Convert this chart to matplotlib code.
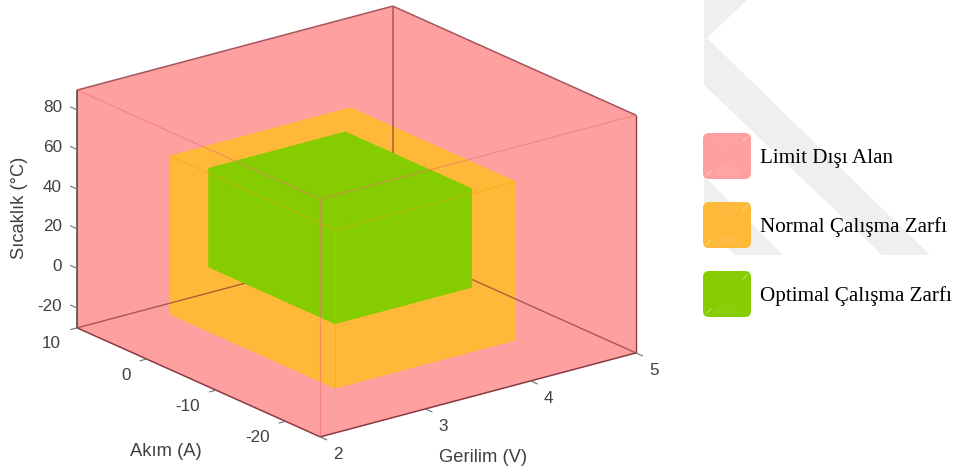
import matplotlib
matplotlib.use('Agg')
import matplotlib.pyplot as plt
from matplotlib.patches import FancyBboxPatch, Polygon
from mpl_toolkits.mplot3d import proj3d
from mpl_toolkits.mplot3d.art3d import Poly3DCollection

# axis ranges and ticks
volt_lim = [2, 5]
curr_lim = [-25, 10]
temp_lim = [-30, 90]
volt_ticks = [2, 3, 4, 5]
curr_ticks = [10, 0, -10, -20]
temp_ticks = [-20, 0, 20, 40, 60, 80]

# operating envelopes
normal_volt = [2.47, 4.19]
normal_curr = [-20, 3.8]
normal_temp = [-20, 60]
optimal_volt = [2.8, 4.1]
optimal_curr = [-15, 3.2]
optimal_temp = [0, 50]

legend_labels = ['Limit Dışı Alan', 'Normal Çalışma Zarfı', 'Optimal Çalışma Zarfı']

PINK = '#ffa0a0'
ORANGE = '#ffb938'
GREEN = '#85cc00'
TEXT = '#404040'
W, H = 955, 471


def box_faces(xr, yr, zr):
    x0, x1 = xr
    y0, y1 = yr
    z0, z1 = zr
    return [
        [(x0, y0, z0), (x1, y0, z0), (x1, y1, z0), (x0, y1, z0)],
        [(x0, y0, z1), (x1, y0, z1), (x1, y1, z1), (x0, y1, z1)],
        [(x0, y0, z0), (x1, y0, z0), (x1, y0, z1), (x0, y0, z1)],
        [(x0, y1, z0), (x1, y1, z0), (x1, y1, z1), (x0, y1, z1)],
        [(x0, y0, z0), (x0, y1, z0), (x0, y1, z1), (x0, y0, z1)],
        [(x1, y0, z0), (x1, y1, z0), (x1, y1, z1), (x1, y0, z1)],
    ]


def add_box(ax, xr, yr, zr, color, z):
    p = Poly3DCollection(box_faces(xr, yr, zr), facecolor=color, edgecolor='none', linewidth=0)
    p.set_zorder(z)
    ax.add_collection3d(p)
    p.set_clip_on(False)


def edge(ax, a, b, color, lw, z, alpha=1.0):
    ax.plot([a[0], b[0]], [a[1], b[1]], [a[2], b[2]], color=color, lw=lw, alpha=alpha,
            zorder=z, clip_on=False, solid_capstyle='butt')


def front_edges(ax, xr, yr, zr, color, lw, z, alpha):
    corner = (xr[0], yr[0], zr[1])
    edge(ax, corner, (xr[1], yr[0], zr[1]), color, lw, z, alpha)
    edge(ax, corner, (xr[0], yr[1], zr[1]), color, lw, z, alpha)
    edge(ax, corner, (xr[0], yr[0], zr[0]), color, lw, z, alpha)


def label_at(ax, x, y, z, s, dx, dy, ha, size=12.3):
    px, py, _ = proj3d.proj_transform(x, y, z, ax.get_proj())
    ax.annotate(s, xy=(px, py), xytext=(dx, dy), textcoords='offset pixels', ha=ha, va='center',
                fontsize=size, color=TEXT, annotation_clip=False)


fig = plt.figure(figsize=(W / 100, H / 100), dpi=100)
plt.rcParams['font.family'] = ['Liberation Sans', 'DejaVu Sans']

# flat layer in pixel coordinates: watermark and legend
bg = fig.add_axes([0, 0, 1, 1], zorder=0)
bg.set_xlim(0, W)
bg.set_ylim(H, 0)
bg.axis('off')
wm = '#efefef'
bg.add_patch(Polygon([(704, 0), (747, 0), (707, 38), (930, 255), (882, 255), (704, 85)],
                     facecolor=wm, edgecolor='none'))
bg.add_patch(Polygon([(704, 176), (783, 255), (735, 255), (704, 224)],
                     facecolor=wm, edgecolor='none'))

for label, color, top in zip(legend_labels, [PINK, ORANGE, GREEN], [133, 202, 271]):
    bg.add_patch(FancyBboxPatch((709, top + 6), 36, 34, boxstyle='round,pad=6,rounding_size=6',
                                facecolor=color, edgecolor='none'))
    bg.add_patch(Polygon([(711, top + 3), (743, top + 3), (733, top + 13), (721, top + 13)],
                         facecolor='white', edgecolor='none', alpha=0.03))
    bg.add_patch(Polygon([(711, top + 43), (743, top + 43), (733, top + 33), (721, top + 33)],
                         facecolor='white', edgecolor='none', alpha=0.05))
    bg.plot([707, 711], [top + 42, top + 38], color='white', lw=1, alpha=0.3)
    bg.plot([743, 747], [top + 8, top + 4], color='white', lw=1, alpha=0.3)
    bg.text(760, top + 25, label, family=['Liberation Serif'], fontsize=15.2, color='black',
            va='center', ha='left')

# 3D part, view -37.5 / 20 like the matlab figure
S = 471
left = (356.5 - 0.5135 * S) / W
bottom = (H - 221.5 - 0.5135 * S) / H
ax = fig.add_axes([left, bottom, S / W, S / H], projection='3d', computed_zorder=False,
                  proj_type='ortho', zorder=1)
ax.patch.set_alpha(0)
ax.set_axis_off()
ax.view_init(elev=20.2, azim=-127.6)
ax.set_box_aspect((1, 1, 0.636), zoom=599.8 / S)
ax.set_autoscale_on(False)
ax.set_xlim(volt_lim)
ax.set_ylim(curr_lim)
ax.set_zlim(temp_lim)

x0, x1 = volt_lim
y0, y1 = curr_lim
z0, z1 = temp_lim

add_box(ax, volt_lim, curr_lim, temp_lim, PINK, 1)
add_box(ax, normal_volt, normal_curr, normal_temp, ORANGE, 2)

# back edges seen through the red volume
back = '#7a2f38'
edge(ax, (x0, y1, z0), (x1, y1, z0), back, 1.0, 3, 0.65)
edge(ax, (x1, y1, z0), (x1, y0, z0), back, 1.0, 3, 0.65)
edge(ax, (x1, y1, z0), (x1, y1, z1), back, 1.1, 3, 0.65)

add_box(ax, optimal_volt, optimal_curr, optimal_temp, GREEN, 4)

front_edges(ax, normal_volt, normal_curr, normal_temp, '#e0b000', 0.6, 5, 0.75)
front_edges(ax, volt_lim, curr_lim, temp_lim, '#f07070', 0.8, 6, 0.6)

# outer edges
dark = '#8a3a42'
edge(ax, (x0, y0, z0), (x1, y0, z0), dark, 1.1, 7)
edge(ax, (x0, y0, z0), (x0, y1, z0), dark, 1.1, 7)
edge(ax, (x0, y1, z1), (x1, y1, z1), '#a5565e', 1.1, 7)
edge(ax, (x1, y1, z1), (x1, y0, z1), '#a5565e', 1.1, 7)
edge(ax, (x1, y0, z0), (x1, y0, z1), '#8a3a42', 1.0, 7)
edge(ax, (x0, y1, z0), (x0, y1, z1), '#404040', 1.1, 7)

# ticks and tick labels
tick_c = '#707070'
for v in volt_ticks:
    edge(ax, (v, y0, z0), (v, y0 - 1, z0), tick_c, 0.8, 7)
    label_at(ax, v, y0, z0, str(v), 18, -18, 'center')
for c in curr_ticks:
    edge(ax, (x0, c, z0), (x0 - 0.065, c, z0), tick_c, 0.8, 7)
    label_at(ax, x0, c, z0, str(c), -16, -16, 'right')
for t in temp_ticks:
    edge(ax, (x0, y1, t), (x0, y1 + 1, t), tick_c, 0.8, 7)
    label_at(ax, x0, y1, t, str(t), -15, 2, 'right')

bg.text(166, 452, 'Akım (A)', fontsize=13.2, color=TEXT, ha='center', va='center')
bg.text(483, 457, 'Gerilim (V)', fontsize=13.2, color=TEXT, ha='center', va='center')
bg.text(20, 208, 'Sıcaklık (°C)', fontsize=13.2, color=TEXT, ha='center', va='center',
        rotation=90)

fig.savefig('out.png', dpi=100)
